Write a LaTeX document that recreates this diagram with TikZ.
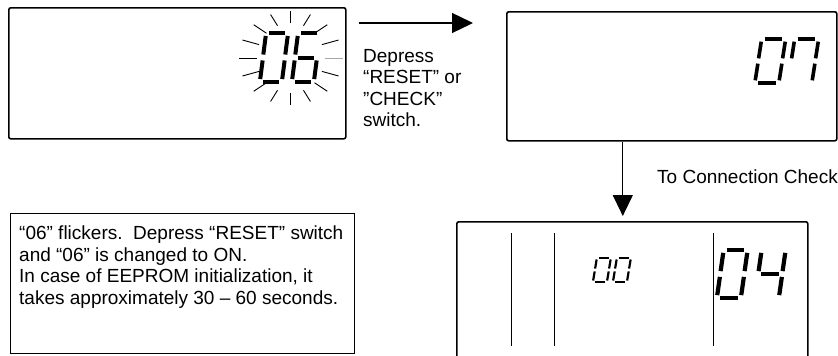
\documentclass[tikz,border=0pt]{standalone}
\usepackage{fontspec}
\setmainfont{Liberation Sans}
\usetikzlibrary{arrows.meta}
\tikzset{>={Triangle[length=21pt,width=20pt]}}
\tikzset{
  lcdbox/.style={draw, line width=1.6pt, rounded corners=2pt, inner sep=0pt, anchor=north west},
  notebox/.style={draw, line width=1.2pt, inner sep=0pt, anchor=north west},
  txt/.style={inner sep=0pt, anchor=north west, align=left, font=\fontsize{19}{21.5}\selectfont},
  flow/.style={->, line width=1.3pt},
  ray/.style={line width=0.9pt},
  divider/.style={line width=1pt},
  pics/lcd/.style={code={\foreach \s in {#1} {\csname lcd\s\endcsname}}}
}
% segments of one slanted digit, top at y=0, bottom at y=2
\newcommand{\lcda}{\draw (0.4,0) -- (1.12,0);}
\newcommand{\lcdb}{\draw (1.26,0.12) -- (1.15,0.88);}
\newcommand{\lcdc}{\draw (1.12,1.12) -- (1.01,1.88);}
\newcommand{\lcdd}{\draw (0.14,2) -- (0.86,2);}
\newcommand{\lcde}{\draw (0.12,1.12) -- (0.01,1.88);}
\newcommand{\lcdf}{\draw (0.26,0.12) -- (0.15,0.88);}
\newcommand{\lcdg}{\draw (0.27,1) -- (0.99,1);}

\begin{document}
\begin{tikzpicture}[x=1pt, y=-1pt]
  \useasboundingbox (0,0) rectangle (838,356);

  \node[lcdbox, minimum width=337pt, minimum height=131pt] (box06) at (8,7) {};
  \node[lcdbox, minimum width=330pt, minimum height=129pt] (box07) at (506,11) {};
  \node[lcdbox, minimum width=351pt, minimum height=160pt] (boxchk) at (456,221) {};
  \node[notebox, minimum width=344pt, minimum height=140pt] (note) at (10,213) {};

  % flickering 06
  \path (260,33) pic[x=22pt, y=-24.5pt, line width=4pt] {lcd={a,b,c,d,e,f}};
  \path (292,33) pic[x=22pt, y=-24.5pt, line width=4pt] {lcd={a,c,d,e,f,g}};
  \coordinate (flicker) at (290.5,58);
  \foreach \a in {22.5,45,...,337.5}
    \draw[ray, shift={(flicker)}] (\a:34 and 35) -- (\a:52 and 47);
  \draw[ray, gray!70, shift={(flicker)}] (0:34) -- (0:52);

  % 07
  \path (755,39) pic[x=24pt, y=-22pt, line width=3.6pt] {lcd={a,b,c,d,e,f}};
  \path (788,39) pic[x=24pt, y=-22pt, line width=3.6pt] {lcd={a,b,c,f}};

  % 00 and 04
  \foreach \x in {511,554,713}
    \draw[divider] (\x,233) -- (\x,346);
  \path (593,258) pic[x=14pt, y=-12pt, line width=2.2pt] {lcd={a,b,c,d,e,f}};
  \path (613,258) pic[x=14pt, y=-12pt, line width=2.2pt] {lcd={a,b,c,d,e,f}};
  \path (717,250) pic[x=24pt, y=-24pt, line width=4.2pt] {lcd={a,b,c,d,e,f}};
  \path (755,250) pic[x=24pt, y=-24pt, line width=4.2pt] {lcd={b,c,f,g}};

  \draw[flow] ([shift={(12,16)}]box06.north east) -- ([shift={(-33,12)}]box07.north west);
  \draw[flow] ([xshift=-49pt]box07.south) -- ([shift={(-9.5,-5)}]boxchk.north);

  \node[txt] (press) at (363,49) {Depress\\“RESET” or\\”CHECK”\\switch.};
  \node[txt] (tocheck) at (657,170) {To Connection Check};
  \node[txt] (notetxt) at ([shift={(9,13)}]note.north west)
    {“06” flickers.\ \ Depress “RESET” switch\\and “06” is changed to ON.\\In case of EEPROM initialization, it\\takes approximately 30 – 60 seconds.};
\end{tikzpicture}
\end{document}
